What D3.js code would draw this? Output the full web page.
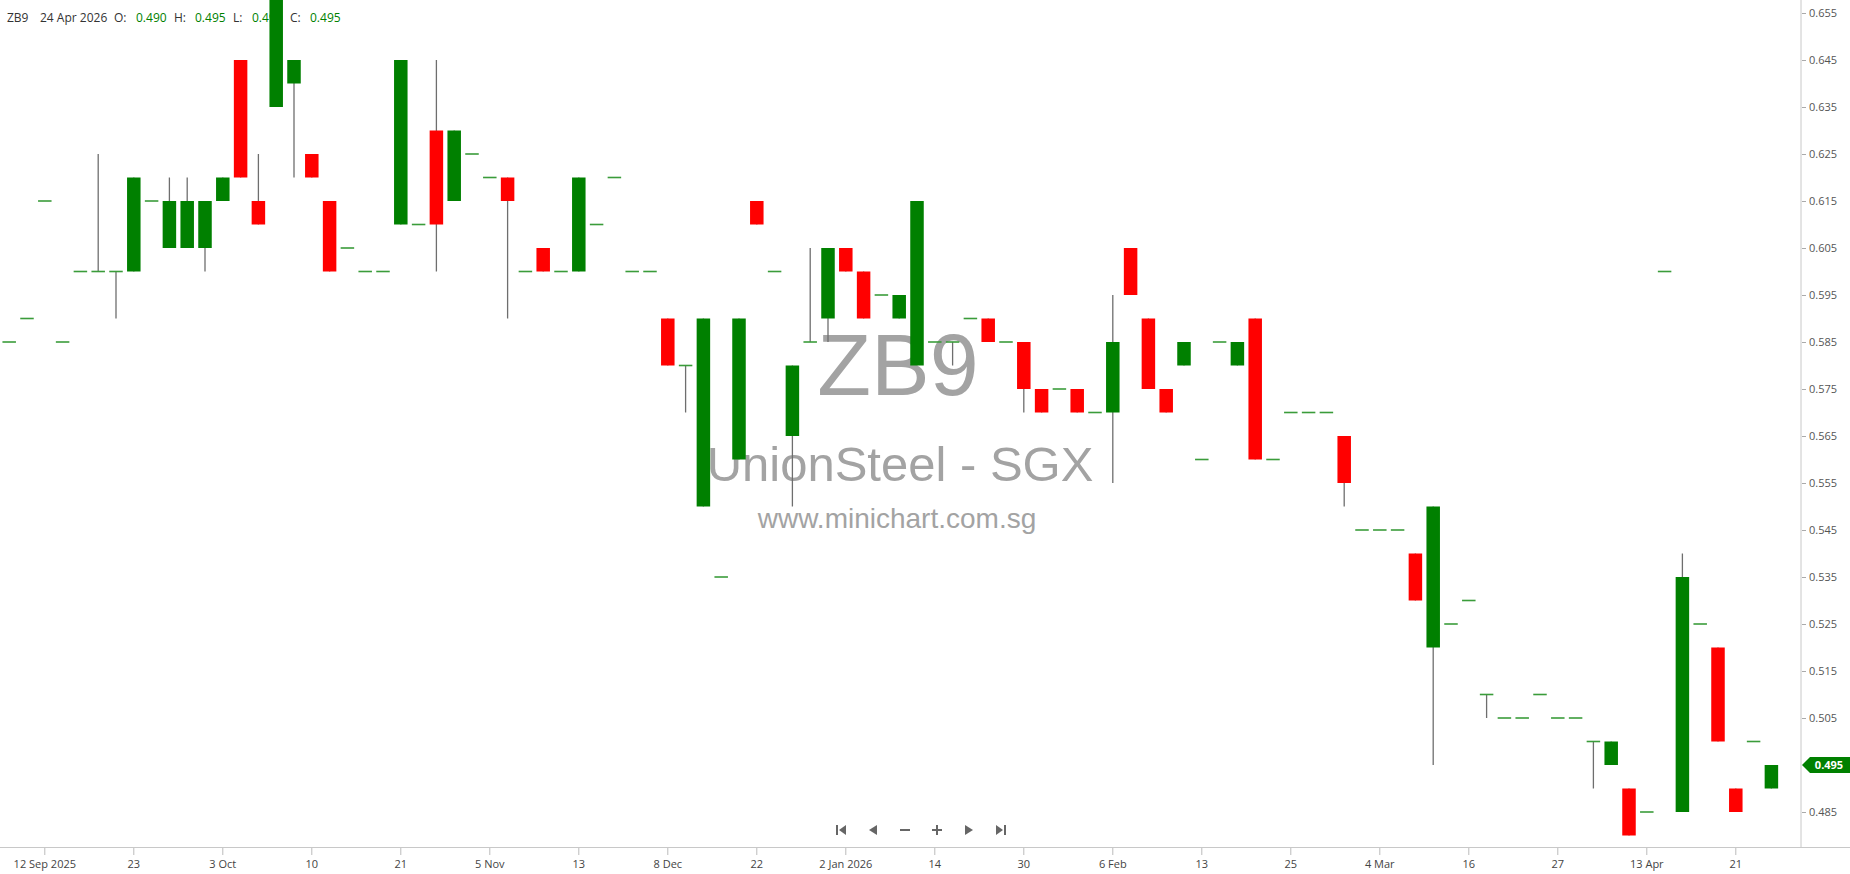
<!DOCTYPE html>
<html>
<head>
<meta charset="utf-8">
<script src="https://cdn.jsdelivr.net/npm/d3@7/dist/d3.min.js"></script>
<style>
  html, body { margin: 0; padding: 0; background: #fff; }
  svg { display: block; }
</style>
</head>
<body>
<svg id="chart" width="1850" height="874"></svg>
<script>
// ---------------- data ----------------
const symbol = "ZB9";
const lastDate = "24 Apr 2026";
const openVals  = [0.585,0.590,0.615,0.585,0.600,0.600,0.600,0.600,0.615,0.605,
                   0.605,0.605,0.615,0.645,0.615,0.635,0.640,0.625,0.615,0.605,
                   0.600,0.600,0.610,0.610,0.630,0.615,0.625,0.620,0.620,0.600,
                   0.605,0.600,0.600,0.610,0.620,0.600,0.600,0.590,0.580,0.550,
                   0.535,0.560,0.615,0.600,0.565,0.585,0.590,0.605,0.600,0.595,
                   0.590,0.580,0.585,0.585,0.590,0.590,0.585,0.585,0.575,0.575,
                   0.575,0.570,0.570,0.605,0.590,0.575,0.580,0.560,0.585,0.580,
                   0.590,0.560,0.570,0.570,0.570,0.565,0.545,0.545,0.545,0.540,
                   0.520,0.525,0.530,0.510,0.505,0.505,0.510,0.505,0.505,0.500,
                   0.495,0.490,0.485,0.600,0.485,0.525,0.520,0.490,0.500,0.490];
const highVals  = [0.585,0.590,0.615,0.585,0.600,0.625,0.600,0.620,0.615,0.620,
                   0.620,0.615,0.620,0.645,0.625,0.660,0.645,0.625,0.615,0.605,
                   0.600,0.600,0.645,0.610,0.645,0.630,0.625,0.620,0.620,0.600,
                   0.605,0.600,0.620,0.610,0.620,0.600,0.600,0.590,0.580,0.590,
                   0.535,0.590,0.615,0.600,0.580,0.605,0.605,0.605,0.600,0.595,
                   0.595,0.615,0.585,0.585,0.590,0.590,0.585,0.585,0.575,0.575,
                   0.575,0.570,0.595,0.605,0.590,0.575,0.585,0.560,0.585,0.585,
                   0.590,0.560,0.570,0.570,0.570,0.565,0.545,0.545,0.545,0.540,
                   0.550,0.525,0.530,0.510,0.505,0.505,0.510,0.505,0.505,0.500,
                   0.500,0.490,0.485,0.600,0.540,0.525,0.520,0.490,0.500,0.495];
const lowVals   = [0.585,0.590,0.615,0.585,0.600,0.600,0.590,0.600,0.615,0.605,
                   0.605,0.600,0.615,0.620,0.610,0.635,0.620,0.620,0.600,0.605,
                   0.600,0.600,0.610,0.610,0.600,0.615,0.625,0.620,0.590,0.600,
                   0.600,0.600,0.600,0.610,0.620,0.600,0.600,0.580,0.570,0.550,
                   0.535,0.560,0.610,0.600,0.550,0.585,0.585,0.600,0.590,0.595,
                   0.590,0.580,0.585,0.580,0.590,0.585,0.585,0.570,0.570,0.575,
                   0.570,0.570,0.555,0.595,0.575,0.570,0.580,0.560,0.585,0.580,
                   0.560,0.560,0.570,0.570,0.570,0.550,0.545,0.545,0.545,0.530,
                   0.495,0.525,0.530,0.505,0.505,0.505,0.510,0.505,0.505,0.490,
                   0.495,0.480,0.485,0.600,0.485,0.525,0.500,0.485,0.500,0.490];
const closeVals = [0.585,0.590,0.615,0.585,0.600,0.600,0.600,0.620,0.615,0.615,
                   0.615,0.615,0.620,0.620,0.610,0.660,0.645,0.620,0.600,0.605,
                   0.600,0.600,0.645,0.610,0.610,0.630,0.625,0.620,0.615,0.600,
                   0.600,0.600,0.620,0.610,0.620,0.600,0.600,0.580,0.580,0.590,
                   0.535,0.590,0.610,0.600,0.580,0.585,0.605,0.600,0.590,0.595,
                   0.595,0.615,0.585,0.585,0.590,0.585,0.585,0.575,0.570,0.575,
                   0.570,0.570,0.585,0.595,0.575,0.570,0.585,0.560,0.585,0.585,
                   0.560,0.560,0.570,0.570,0.570,0.555,0.545,0.545,0.545,0.530,
                   0.550,0.525,0.530,0.510,0.505,0.505,0.510,0.505,0.505,0.500,
                   0.500,0.480,0.485,0.600,0.535,0.525,0.500,0.485,0.500,0.495];
const xTickIndex  = [2,7,12,17,22,27,32,37,42,47,52,57,62,67,72,77,82,87,92,97];
const xTickLabels = ["12 Sep 2025","23","3 Oct","10","21","5 Nov","13","8 Dec","22","2 Jan 2026",
                     "14","30","6 Feb","13","25","4 Mar","16","27","13 Apr","21"];
const yTickLabels = ["0.485","0.495","0.505","0.515","0.525","0.535","0.545","0.555","0.565",
                     "0.575","0.585","0.595","0.605","0.615","0.625","0.635","0.645","0.655"];
const headerLow = "0.490";

// ---------------- setup ----------------
const W = 1850, H = 874;
const plotRight = 1801, plotBottom = 847;
const GREEN = "#008000", RED = "#ff0000", WICK = "#6e6e6e";
const FONT = "'Open Sans', 'Noto Sans', sans-serif";

const candles = openVals.map((o, i) => ({ i, o, h: highVals[i], l: lowVals[i], c: closeVals[i] }));

const svg = d3.select("#chart");
const x = d3.scaleBand().domain(d3.range(candles.length)).range([0.3, 0.3 + 17.8 * candles.length]).paddingInner(0);
const y = d3.scaleLinear().domain([0.48, 0.66]).range([835.5, -10.5]);
const cx = i => x(i) + x.bandwidth() / 2;
const bodyW = 13.5;

// clip
svg.append("defs").append("clipPath").attr("id", "plotclip")
  .append("rect").attr("x", 0).attr("y", 0).attr("width", plotRight).attr("height", plotBottom);

// watermark
const wm = svg.append("g").attr("fill", "#a3a3a3").attr("text-anchor", "middle")
  .attr("font-family", "'Liberation Sans', Arial, sans-serif");
wm.append("text").attr("x", 898).attr("y", 395).attr("font-size", 88).text(symbol);
wm.append("text").attr("x", 900).attr("y", 481).attr("font-size", 49).text("UnionSteel - SGX");
wm.append("text").attr("x", 897).attr("y", 528).attr("font-size", 28).text("www.minichart.com.sg");

// header (drawn under candles)
const hdr = svg.append("g").attr("font-family", FONT).attr("font-size", 12);
const hdrItems = [
  [7, symbol, "#333"], [40, lastDate, "#333"],
  [114, "O:", "#333"], [136, d3.format(".3f")(openVals[openVals.length-1]), GREEN],
  [174, "H:", "#333"], [195, d3.format(".3f")(highVals[highVals.length-1]), GREEN],
  [233, "L:", "#333"], [252, headerLow, GREEN],
  [290, "C:", "#333"], [310, d3.format(".3f")(closeVals[closeVals.length-1]), GREEN]
];
hdr.selectAll("text").data(hdrItems).join("text")
  .attr("x", d => d[0]).attr("y", 22).attr("fill", d => d[2]).text(d => d[1]);

// candles
const g = svg.append("g").attr("clip-path", "url(#plotclip)");
g.selectAll("line.wick").data(candles.filter(d => d.h !== d.l)).join("line")
  .attr("class", "wick")
  .attr("x1", d => cx(d.i)).attr("x2", d => cx(d.i))
  .attr("y1", d => y(d.h)).attr("y2", d => y(d.l))
  .attr("stroke", WICK).attr("stroke-width", 1.3);

g.selectAll("rect.body").data(candles.filter(d => d.o !== d.c)).join("rect")
  .attr("class", "body")
  .attr("x", d => cx(d.i) - bodyW / 2).attr("width", bodyW)
  .attr("y", d => y(Math.max(d.o, d.c)))
  .attr("height", d => Math.abs(y(d.o) - y(d.c)))
  .attr("fill", d => d.c > d.o ? GREEN : RED);

g.selectAll("line.doji").data(candles.filter(d => d.o === d.c)).join("line")
  .attr("class", "doji")
  .attr("x1", d => cx(d.i) - bodyW / 2).attr("x2", d => cx(d.i) + bodyW / 2)
  .attr("y1", d => y(d.o)).attr("y2", d => y(d.o))
  .attr("stroke", "#3a9c3a").attr("stroke-width", 1.6);

// axes lines
svg.append("line").attr("x1", plotRight).attr("x2", plotRight).attr("y1", 0).attr("y2", plotBottom)
  .attr("stroke", "#c8c8c8");
svg.append("line").attr("x1", 0).attr("x2", W).attr("y1", plotBottom + 0.5).attr("y2", plotBottom + 0.5)
  .attr("stroke", "#c8c8c8");

// right axis (the tick at the last price is covered by the price marker, as in the reference)
const lastC = closeVals[closeVals.length - 1];
const shownY = yTickLabels.filter(t => Math.abs(Number(t) - lastC) > 1e-9);
const yAxis = d3.axisRight(y)
  .tickValues(shownY.map(Number))
  .tickFormat((d, i) => shownY[i])
  .tickSize(4).tickPadding(3);
const ya = svg.append("g").attr("transform", `translate(${plotRight + 1},0)`).call(yAxis);
ya.select(".domain").remove();
ya.selectAll("line").attr("stroke", "#aaa");
ya.selectAll("text").attr("fill", "#555").attr("font-size", 11).attr("font-family", FONT);

// bottom axis
const xAxis = d3.axisBottom(x)
  .tickValues(xTickIndex)
  .tickFormat(d => xTickLabels[xTickIndex.indexOf(d)])
  .tickSize(7).tickPadding(5);
const xa = svg.append("g").attr("transform", `translate(0,${plotBottom + 1})`).call(xAxis);
xa.select(".domain").remove();
xa.selectAll("line").attr("stroke", "#bbb");
xa.selectAll("text").attr("fill", "#444").attr("font-size", 11).attr("font-family", FONT);

// last price marker
const ly = y(lastC);
svg.append("path")
  .attr("d", `M${plotRight + 1},${ly} L${plotRight + 9},${ly - 8} L${W},${ly - 8} L${W},${ly + 8} L${plotRight + 9},${ly + 8} Z`)
  .attr("fill", GREEN);
svg.append("text").attr("x", 1829).attr("y", ly + 4).attr("text-anchor", "middle")
  .attr("fill", "#fff").attr("font-size", 11).attr("font-weight", "bold").attr("font-family", FONT)
  .text(d3.format(".3f")(lastC));

// navigation icons
const nav = svg.append("g").attr("fill", "#666").attr("stroke", "#666");
const ny = 830;
nav.append("rect").attr("x", 836).attr("y", ny - 5).attr("width", 2).attr("height", 10).attr("stroke", "none");
nav.append("path").attr("d", `M846,${ny - 5} L839,${ny} L846,${ny + 5} Z`).attr("stroke", "none");
nav.append("path").attr("d", `M877,${ny - 5} L869,${ny} L877,${ny + 5} Z`).attr("stroke", "none");
nav.append("line").attr("x1", 900).attr("x2", 910).attr("y1", ny).attr("y2", ny).attr("stroke-width", 2);
nav.append("line").attr("x1", 932).attr("x2", 942).attr("y1", ny).attr("y2", ny).attr("stroke-width", 2);
nav.append("line").attr("x1", 937).attr("x2", 937).attr("y1", ny - 5).attr("y2", ny + 5).attr("stroke-width", 2);
nav.append("path").attr("d", `M965,${ny - 5} L973,${ny} L965,${ny + 5} Z`).attr("stroke", "none");
nav.append("path").attr("d", `M996,${ny - 5} L1003,${ny} L996,${ny + 5} Z`).attr("stroke", "none");
nav.append("rect").attr("x", 1004).attr("y", ny - 5).attr("width", 2).attr("height", 10).attr("stroke", "none");
</script>
</body>
</html>
